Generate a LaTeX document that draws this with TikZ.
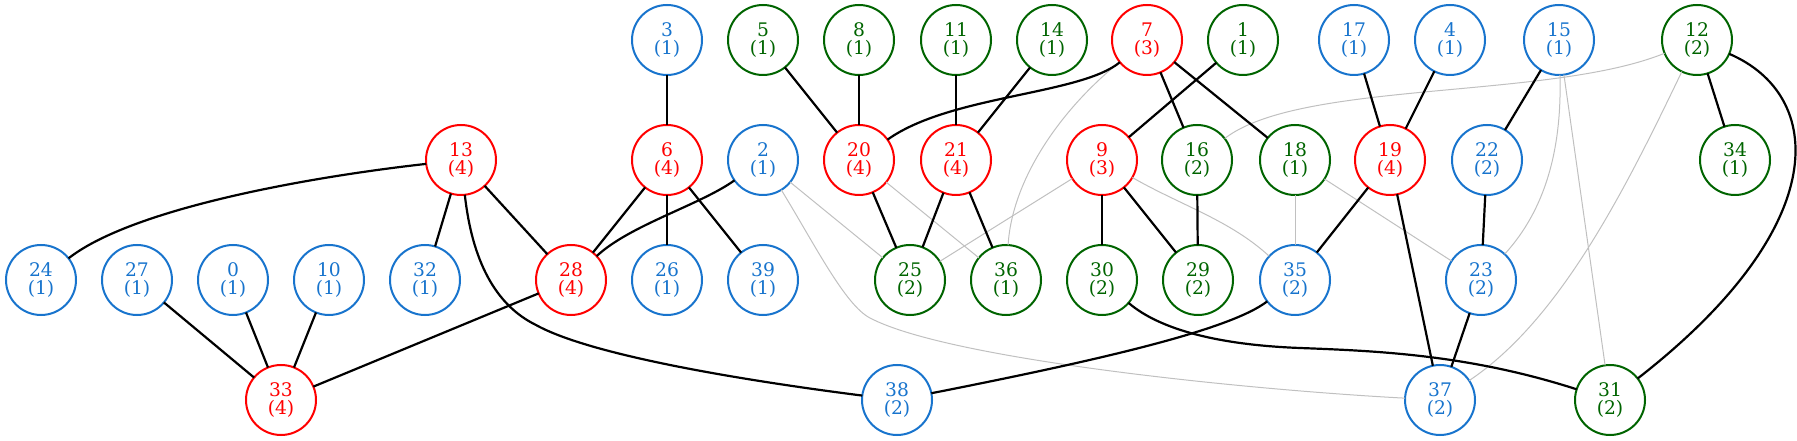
\documentclass[tikz,border=0pt]{standalone}
\usepackage{fontspec}
\setmainfont{DejaVu Serif}
\usetikzlibrary{calc}

\definecolor{cblue}{HTML}{1874CD}
\definecolor{cgreen}{HTML}{006400}
\definecolor{cred}{HTML}{FF0000}
\definecolor{cgray}{HTML}{C0C0C0}

\tikzset{
  vtx/.style={circle, line width=2bp, minimum size=70bp, inner sep=0pt, outer sep=0pt, align=center, font=\fontsize{18.7bp}{18.7bp}\selectfont},
  vblue/.style={vtx, draw=cblue, text=cblue},
  vgreen/.style={vtx, draw=cgreen, text=cgreen},
  vred/.style={vtx, draw=cred, text=cred},
  tie/.style={line width=2.2bp, draw=black},
  weak/.style={line width=1bp, draw=cgray},
}

\begin{document}
\begin{tikzpicture}[x=1bp, y=-1bp]
  \useasboundingbox (0,0) rectangle (1797,441);

  % top row
  \node[vblue]  (v3)  at (667,40)  {3\\(1)};
  \node[vgreen] (v5)  at (763,40)  {5\\(1)};
  \node[vgreen] (v8)  at (859,40)  {8\\(1)};
  \node[vgreen] (v11) at (956,40)  {11\\(1)};
  \node[vgreen] (v14) at (1052,40) {14\\(1)};
  \node[vred]   (v7)  at (1147,40) {7\\(3)};
  \node[vgreen] (v1)  at (1243,40) {1\\(1)};
  \node[vblue]  (v17) at (1354,40) {17\\(1)};
  \node[vblue]  (v4)  at (1450,40) {4\\(1)};
  \node[vblue]  (v15) at (1559,40) {15\\(1)};
  \node[vgreen] (v12) at (1697,40) {12\\(2)};

  % second row
  \node[vred]   (v13) at (461,160)  {13\\(4)};
  \node[vred]   (v6)  at (667,160)  {6\\(4)};
  \node[vblue]  (v2)  at (763,160)  {2\\(1)};
  \node[vred]   (v20) at (859,160)  {20\\(4)};
  \node[vred]   (v21) at (956,160)  {21\\(4)};
  \node[vred]   (v9)  at (1102,160) {9\\(3)};
  \node[vgreen] (v16) at (1197,160) {16\\(2)};
  \node[vgreen] (v18) at (1295,160) {18\\(1)};
  \node[vred]   (v19) at (1390,160) {19\\(4)};
  \node[vblue]  (v22) at (1487,160) {22\\(2)};
  \node[vgreen] (v34) at (1735,160) {34\\(1)};

  % third row
  \node[vblue]  (v24) at (41,280)   {24\\(1)};
  \node[vblue]  (v27) at (137,280)  {27\\(1)};
  \node[vblue]  (v0)  at (233,280)  {0\\(1)};
  \node[vblue]  (v10) at (329,280)  {10\\(1)};
  \node[vblue]  (v32) at (425,280)  {32\\(1)};
  \node[vred]   (v28) at (571,280)  {28\\(4)};
  \node[vblue]  (v26) at (667,280)  {26\\(1)};
  \node[vblue]  (v39) at (763,280)  {39\\(1)};
  \node[vgreen] (v25) at (910,280)  {25\\(2)};
  \node[vgreen] (v36) at (1006,280) {36\\(1)};
  \node[vgreen] (v30) at (1102,280) {30\\(2)};
  \node[vgreen] (v29) at (1198,280) {29\\(2)};
  \node[vblue]  (v35) at (1295,280) {35\\(2)};
  \node[vblue]  (v23) at (1481,280) {23\\(2)};

  % bottom row
  \node[vred]   (v33) at (281,400)  {33\\(4)};
  \node[vblue]  (v38) at (897,400)  {38\\(2)};
  \node[vblue]  (v37) at (1440,400) {37\\(2)};
  \node[vgreen] (v31) at (1610,400) {31\\(2)};

  % grey links
  \draw[weak] (v2) -- (v25);
  \draw[weak] (v2) .. controls (815,245) and (845,305) .. (870,318) .. controls (950,360) and (1250,390) .. (v37);
  \draw[weak] (v20) -- (v36);
  \draw[weak] (v7) .. controls (1060,110) and (1012,180) .. (v36);
  \draw[weak] (v9) -- (v25);
  \draw[weak] (v9) .. controls (1180,205) and (1230,220) .. (v35);
  \draw[weak] (v12) .. controls (1550,100) and (1300,80) .. (v16);
  \draw[weak] (v18) -- (v35);
  \draw[weak] (v18) -- (v23);
  \draw[weak] (v15) .. controls (1562,150) and (1545,210) .. (v23);
  \draw[weak] (v15) -- (v31);
  \draw[weak] (v12) .. controls (1625,190) and (1560,320) .. (v37);

  % black links
  \draw[tie] (v13) .. controls (300,178) and (130,210) .. (v24);
  \draw[tie] (v13) -- (v32);
  \draw[tie] (v13) -- (v28);
  \draw[tie] (v13) .. controls (472,260) and (495,305) .. (536,325) .. controls (590,355) and (740,380) .. (v38);
  \draw[tie] (v27) -- (v33);
  \draw[tie] (v0) -- (v33);
  \draw[tie] (v10) -- (v33);
  \draw[tie] (v28) -- (v33);
  \draw[tie] (v6) -- (v28);
  \draw[tie] (v2) .. controls (700,205) and (630,225) .. (v28);
  \draw[tie] (v6) -- (v26);
  \draw[tie] (v6) -- (v39);
  \draw[tie] (v3) -- (v6);
  \draw[tie] (v5) -- (v20);
  \draw[tie] (v8) -- (v20);
  \draw[tie] (v7) .. controls (1080,95) and (950,95) .. (v20);
  \draw[tie] (v11) -- (v21);
  \draw[tie] (v14) -- (v21);
  \draw[tie] (v20) -- (v25);
  \draw[tie] (v21) -- (v25);
  \draw[tie] (v21) -- (v36);
  \draw[tie] (v1) -- (v9);
  \draw[tie] (v7) -- (v16);
  \draw[tie] (v7) -- (v18);
  \draw[tie] (v9) -- (v30);
  \draw[tie] (v9) -- (v29);
  \draw[tie] (v16) -- (v29);
  \draw[tie] (v17) -- (v19);
  \draw[tie] (v4) -- (v19);
  \draw[tie] (v19) -- (v35);
  \draw[tie] (v19) -- (v37);
  \draw[tie] (v15) -- (v22);
  \draw[tie] (v22) -- (v23);
  \draw[tie] (v23) -- (v37);
  \draw[tie] (v12) -- (v34);
  \draw[tie] (v12) .. controls (1825,95) and (1835,225) .. (v31);
  \draw[tie] (v30) .. controls (1160,330) and (1220,345) .. (1300,348) .. controls (1380,351) and (1470,355) .. (v31);
  \draw[tie] (v35) .. controls (1230,330) and (1100,360) .. (v38);

\end{tikzpicture}
\end{document}
